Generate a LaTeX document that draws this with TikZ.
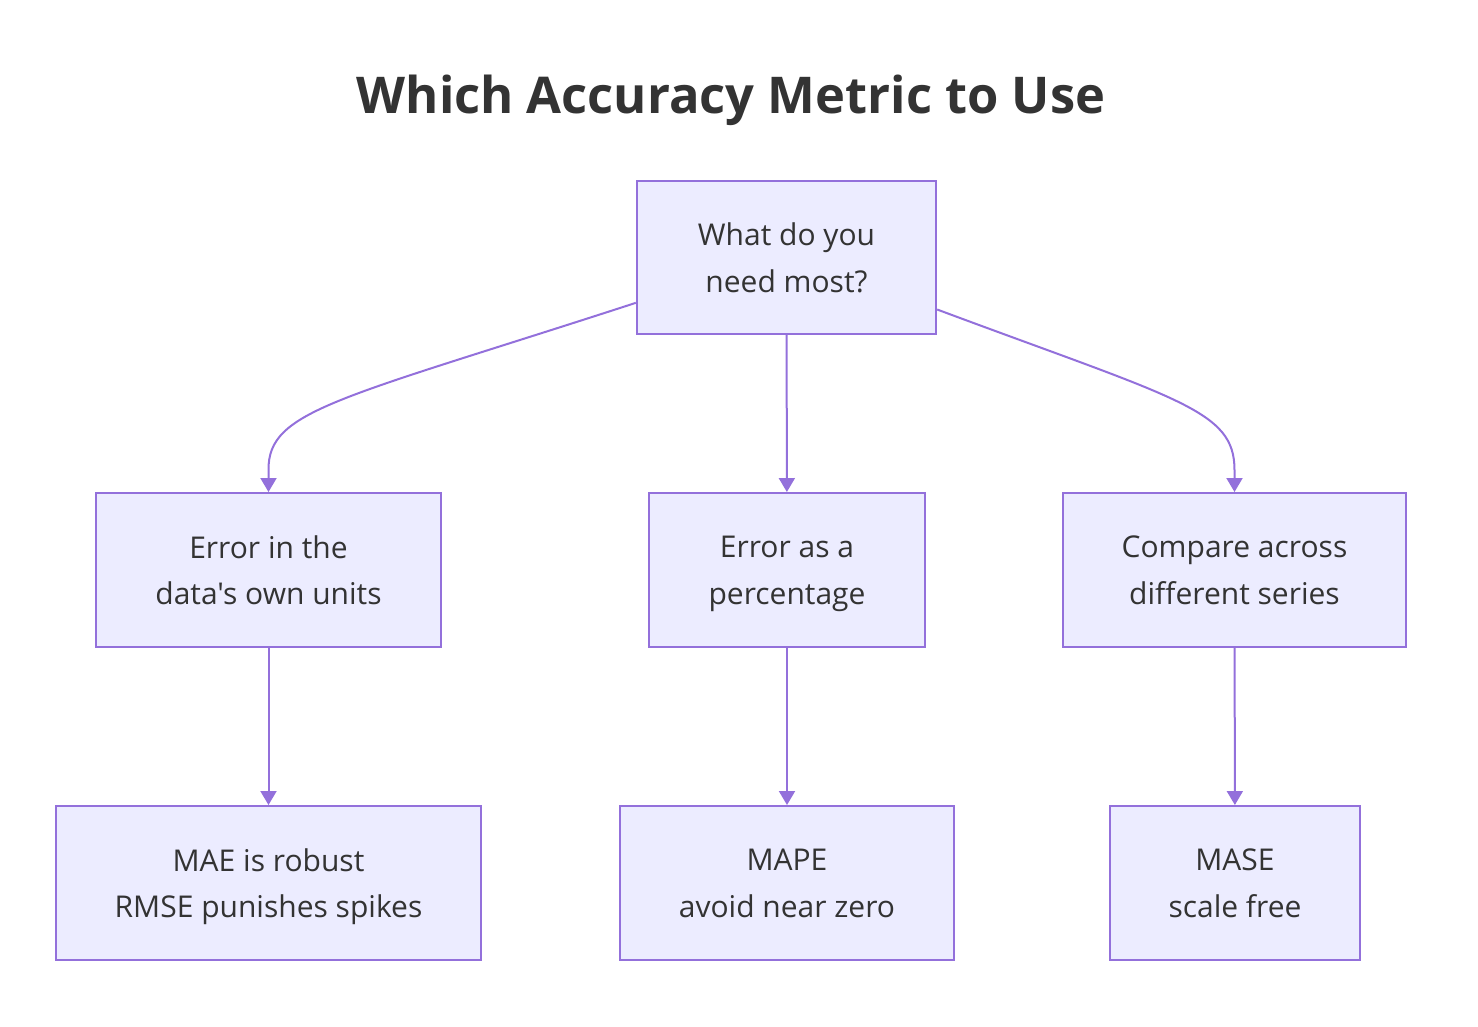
\documentclass[tikz,border=0pt]{standalone}
\usepackage{fontspec}
\setmainfont{Open Sans}[Ligatures=TeXOff]
\usetikzlibrary{arrows.meta}
\definecolor{boxfill}{HTML}{ECECFF}
\definecolor{boxline}{HTML}{9370DB}
\definecolor{ink}{HTML}{333333}
\tikzset{
	metric/.style={draw=boxline,fill=boxfill,line width=1.5pt,text=ink,align=center,
		font=\fontsize{22.5}{35}\selectfont,inner sep=0pt,minimum height=115.5pt,
		execute at begin node=\strut,execute at end node=\strut,text depth=0pt},
	link/.style={draw=boxline,line width=1.5pt,-{Triangle[length=10.5pt,width=12pt]}}
}
\begin{document}
\begin{tikzpicture}[x=0.75pt,y=-0.75pt]
		\useasboundingbox (0,0) rectangle (1478,1026);
		\node[text=ink,font=\bfseries\fontsize{38}{42}\selectfont] (title) at (731,100) {Which Accuracy Metric to Use};
		% question
		\node[metric,minimum width=224.5pt,minimum height=115pt] (need) at (786.5,257.5) {What do you\\need most?};
		% second row
		\node[metric,minimum width=259pt] (units) at (268.5,570) {Error in the\\data's own units};
		\node[metric,minimum width=207pt] (percent) at (787,570) {Error as a\\percentage};
		\node[metric,minimum width=257.5pt] (compare) at (1234.5,570) {Compare across\\different series};
		% third row
		\node[metric,minimum width=319pt] (mae) at (268.5,883) {MAE is robust\\RMSE punishes spikes};
		\node[metric,minimum width=250.5pt] (mape) at (787,883) {MAPE\\avoid near zero};
		\node[metric,minimum width=187.5pt] (mase) at (1235,883) {MASE\\scale free};
		% links
		\draw[link] ([yshift=-34pt]need.west) .. controls (337,400) and (268,410) .. (268.5,470) -- (units.north);
		\draw[link] (need) -- (percent);
		\draw[link] ([yshift=-39pt]need.east) .. controls (1180,400) and (1234.5,410) .. (1234.5,470) -- (compare.north);
		\draw[link] (units) -- (mae);
		\draw[link] (percent) -- (mape);
		\draw[link] (compare) -- (mase);
	\end{tikzpicture}
\end{document}
